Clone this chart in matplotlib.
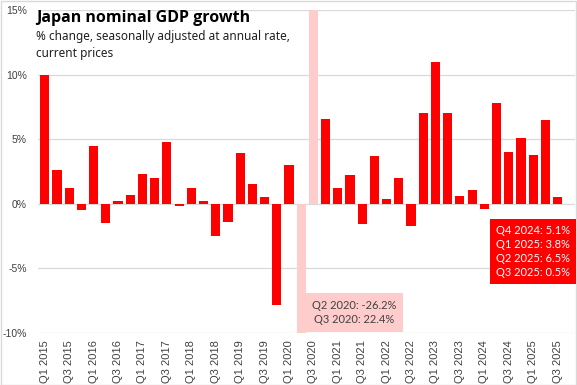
# Japan nominal GDP growth, quarterly, % change saar
import numpy as np
import matplotlib.pyplot as plt
from matplotlib.patches import Rectangle

quarters = [f'Q{q} {y}' for y in range(2015, 2026) for q in range(1, 5)][:43]
growth = [10.0, 2.6, 1.2, -0.5, 4.5, -1.5, 0.2, 0.7,
          2.3, 2.0, 4.8, -0.2, 1.2, 0.2, -2.5, -1.4,
          3.9, 1.5, 0.5, -7.8, 3.0, -26.2, 22.4, 6.6,
          1.2, 2.2, -1.6, 3.7, 0.4, 2.0, -1.7, 7.0,
          11.0, 7.0, 0.6, 1.1, -0.4, 7.8, 4.0, 5.1,
          3.8, 6.5, 0.5]
covid = ['Q2 2020', 'Q3 2020']

red = '#ff0000'
pink = '#ffcccc'

fig = plt.figure(figsize=(5.77, 3.85), dpi=100)
ax = fig.add_axes([0.066, 0.135, 0.931, 0.839])

x = np.arange(len(quarters))
colors = [pink if q in covid else red for q in quarters]
ax.bar(x, growth, width=0.75, color=colors, zorder=2)

ax.set_ylim(-10, 15)
ax.set_xlim(-0.55, 43.45)
ax.set_yticks([-10, -5, 0, 5, 10, 15])
ax.set_yticklabels(['-10%', '-5%', '0%', '5%', '10%', '15%'],
                   fontsize=7.5, color='#404040', family='Liberation Sans')
ax.grid(axis='y', color='#d9d9d9', lw=0.9, zorder=0)
ax.set_xticks(x[::2])
ax.set_xticklabels(quarters[::2], rotation=90, fontsize=8,
                   color='#404040', family='Liberation Sans')
ax.tick_params(length=0, pad=5)
ax.tick_params(axis='y', pad=8)
for s in ax.spines.values():
    s.set_visible(False)

# titles
fig.text(0.062, 0.953, 'Japan nominal GDP growth', fontsize=11.5,
         fontweight='bold', family='Open Sans', va='center')
fig.text(0.062, 0.905, '% change, seasonally adjusted at annual rate,',
         fontsize=8.5, family='Noto Sans', va='center', color='#202020')
fig.text(0.062, 0.862, 'current prices',
         fontsize=8.5, family='Noto Sans', va='center', color='#202020')

# annotation boxes
fig.text(0.614, 0.188, 'Q2 2020: -26.2%\nQ3 2020: 22.4%', fontsize=8,
         family='Lato', color='#404040', ha='center', va='center',
         linespacing=1.35,
         bbox=dict(boxstyle='square,pad=0.6', fc=pink, ec='none'))
fig.text(0.924, 0.347, 'Q4 2024: 5.1%\nQ1 2025: 3.8%\nQ2 2025: 6.5%\nQ3 2025: 0.5%',
         fontsize=8, family='Lato', color='white', ha='center', va='center',
         linespacing=1.35,
         bbox=dict(boxstyle='square,pad=0.55', fc=red, ec='none'))

# light frame round the figure
fig.patches.append(Rectangle((0.001, 0.001), 0.997, 0.997, transform=fig.transFigure,
                             fill=False, ec='#d9d9d9', lw=1))

fig.savefig('out.png', dpi=100)
